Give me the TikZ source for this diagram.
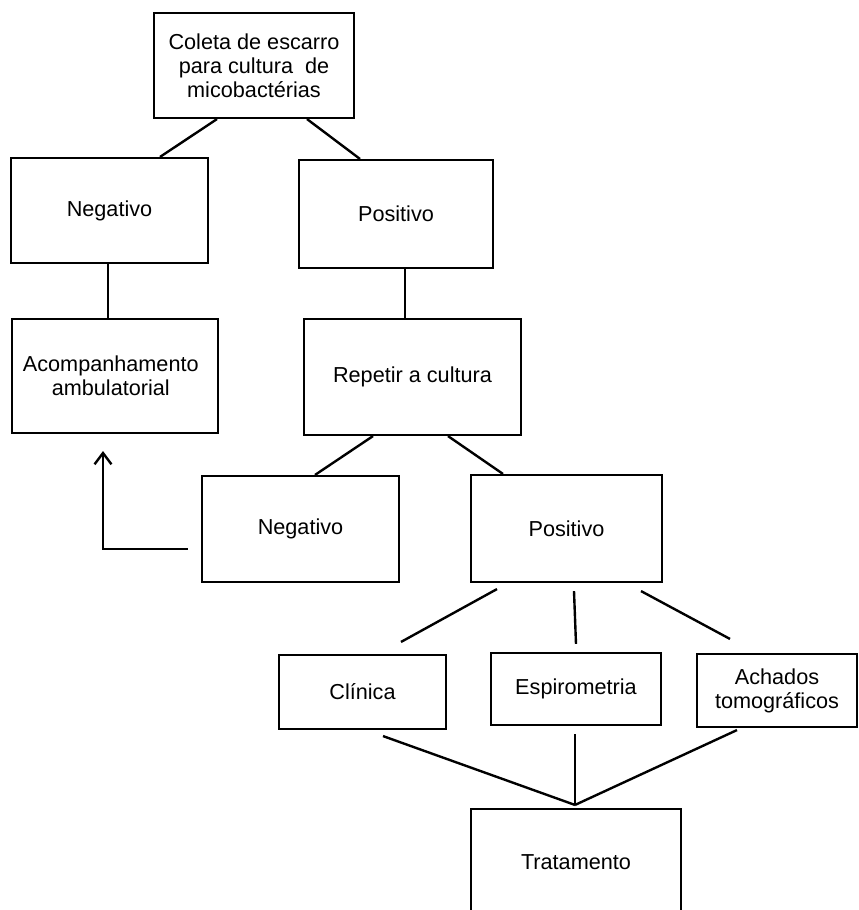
\documentclass[tikz,border=0pt]{standalone}
\usepackage{fontspec}
\setmainfont{Liberation Sans}
\usetikzlibrary{calc,arrows.meta}

\begin{document}
\begin{tikzpicture}[x=0.025cm, y=-0.025cm, >={Straight Barb[length=8pt,width=12pt]},
    box/.style={draw, line width=1.5pt, rectangle, align=center, inner sep=2pt,
      font=\fontsize{15.4}{17}\selectfont},
    link/.style={line width=1.7pt}]

\useasboundingbox (0,0) rectangle (858,910);
\clip (0,0) rectangle (858,910);

% first culture
\node[box, minimum width=200*0.025cm, minimum height=105*0.025cm] (coleta) at (254,65.5)
  {Coleta de escarro\\para cultura\ \ de\\micobactérias};
\node[box, minimum width=197*0.025cm, minimum height=105*0.025cm] (neg1) at (109.5,210.5) {Negativo};
\node[box, minimum width=194*0.025cm, minimum height=108*0.025cm] (pos1) at (396,214) {Positivo};
\node[box, minimum width=206*0.025cm, minimum height=114*0.025cm] (acomp) at (115,376)
  {Acompanhamento\hspace*{6pt}\\ambulatorial\hspace*{6pt}};
\node[box, minimum width=217*0.025cm, minimum height=116*0.025cm] (repetir) at (412.5,377) {Repetir a cultura};

% second culture
\node[box, minimum width=197*0.025cm, minimum height=106*0.025cm] (neg2) at (300.5,529) {Negativo};
\node[box, minimum width=191*0.025cm, minimum height=107*0.025cm] (pos2) at (566.5,528.5) {Positivo};

% exams
\node[box, minimum width=167*0.025cm, minimum height=74*0.025cm] (clinica) at (362.5,692) {Clínica};
\node[box, minimum width=170*0.025cm, minimum height=72*0.025cm] (espiro) at (576,689) {Espirometria};
\node[box, minimum width=160*0.025cm, minimum height=73*0.025cm] (achados) at (777,690.5)
  {Achados\\tomográficos};
\node[box, minimum width=210*0.025cm, minimum height=106*0.025cm] (trat) at (576,862) {Tratamento};
\coordinate (meet) at ($(trat.north)+(-1,-3)$);

% connectors
\draw[link] ($(coleta.south)+(-37,0)$) -- ($(neg1.north)+(50.5,0)$);
\draw[link] ($(coleta.south)+(53,0)$) -- ($(pos1.north)+(-36,0)$);
\draw[link] ($(neg1.south)+(-1.5,0)$) -- ($(acomp.north)+(-7,0)$);
\draw[link] ($(pos1.south)+(9,0)$) -- ($(repetir.north)+(-7.5,0)$);
\draw[link] ($(repetir.south)+(-39.5,0)$) -- ($(neg2.north)+(14.5,0)$);
\draw[link] ($(repetir.south)+(35.5,0)$) -- ($(pos2.north)+(-63.5,0)$);
\draw[link] ($(pos2.south)+(-69.5,6)$) -- ($(clinica.north)+(38.5,-12)$);
\draw[link] ($(pos2.south)+(7.5,8)$) -- ($(espiro.north)+(0,-8)$);
\draw[link] ($(pos2.south)+(74.5,8)$) -- ($(achados.north)+(-47,-14)$);
\draw[link] ($(clinica.south)+(20.5,6)$) -- (meet);
\draw[link] ($(espiro.south)+(-1,8)$) -- (meet);
\draw[link] ($(achados.south)+(-40,2)$) -- (meet);

% back to follow-up
\draw[link, ->] ($(neg2.west)+(-13,20)$) -| ($(acomp.south)+(-12,17)$);

\end{tikzpicture}
\end{document}
